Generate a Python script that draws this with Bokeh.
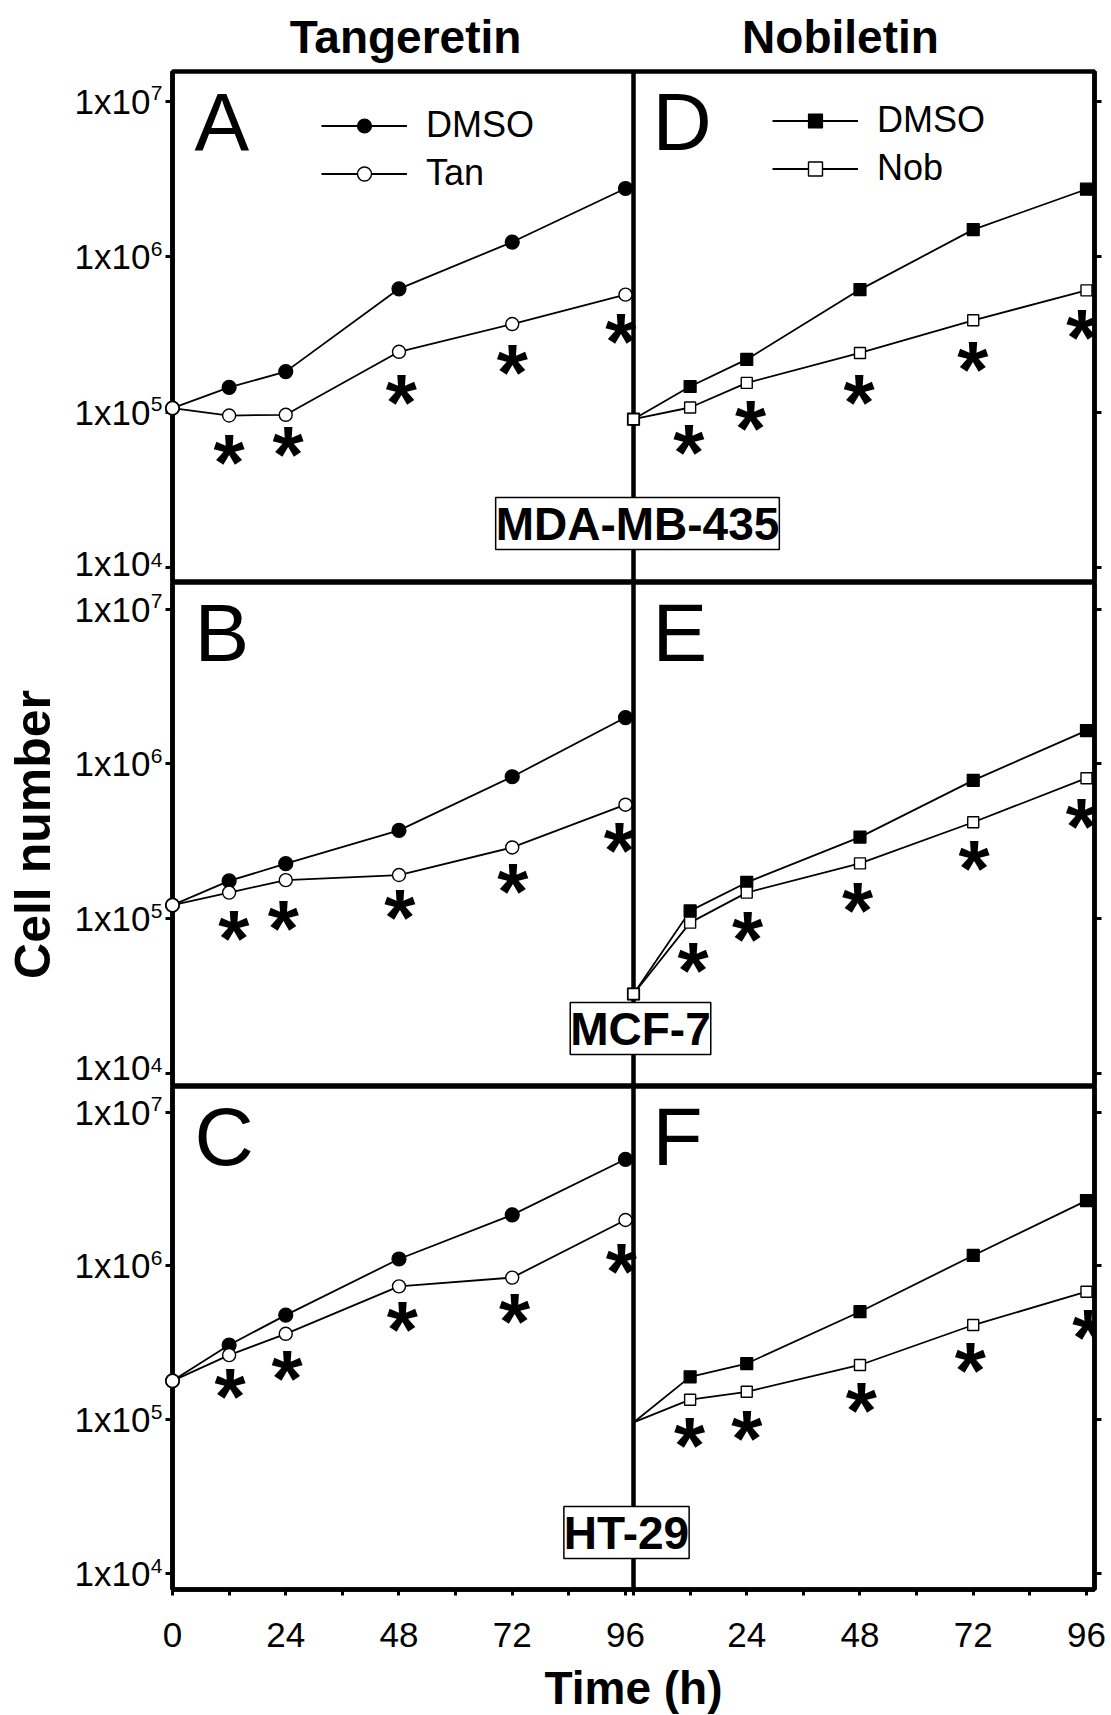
from bokeh.plotting import figure
from bokeh.models import (ColumnDataSource, Range1d, FixedTicker, LogAxis, Span, Label,
                          Legend, LegendItem, CDSView, IndexFilter)
from bokeh.layouts import column
from bokeh.transform import dodge
from bokeh.core.properties import value
from bokeh.embed import file_html
from bokeh.resources import INLINE

# ------------------------------------------------------------------ data
times = [0, 12, 24, 48, 72, 96]

col_titles = ["Tangeretin", "Nobiletin"]
cell_lines = ["MDA-MB-435", "MCF-7", "HT-29"]
panel_letters = [["A", "D"], ["B", "E"], ["C", "F"]]
legend_left = ["DMSO", "Tan"]
legend_right = ["DMSO", "Nob"]

# Tangeretin column (A: MDA-MB-435, B: MCF-7, C: HT-29)
a_dmso = [1.06e5, 1.44e5, 1.82e5, 6.2e5, 1.24e6, 2.74e6]
a_tan = [1.06e5, 9.5e4, 9.6e4, 2.44e5, 3.68e5, 5.69e5]
a_star_t = [12, 24.5, 48.5, 72, 95]
a_star_y = [5.45e4, 6.1e4, 1.31e5, 2.06e5, 3.24e5]

b_dmso = [1.22e5, 1.75e5, 2.26e5, 3.71e5, 8.25e5, 1.99e6]
b_tan = [1.22e5, 1.47e5, 1.77e5, 1.91e5, 2.88e5, 5.44e5]
b_star_t = [13, 23.5, 48.2, 72.1, 94.7]
b_star_y = [8.5e4, 9.9e4, 1.16e5, 1.70e5, 3.15e5]

c_dmso = [1.79e5, 3.06e5, 4.79e5, 1.11e6, 2.15e6, 4.94e6]
c_tan = [1.79e5, 2.63e5, 3.62e5, 7.37e5, 8.4e5, 1.99e6]
c_star_t = [12.2, 24.3, 48.7, 72.5, 95.1]
c_star_y = [1.61e5, 2.13e5, 4.42e5, 5.0e5, 1.06e6]

# Nobiletin column (D: MDA-MB-435, E: MCF-7, F: HT-29)
d_dmso = [9.0e4, 1.46e5, 2.18e5, 6.13e5, 1.49e6, 2.71e6]
d_nob = [9.0e4, 1.07e5, 1.54e5, 2.40e5, 3.89e5, 6.06e5]
d_star_t = [11.7, 24.8, 47.8, 71.9, 95.0]
d_star_y = [6.3e4, 8.9e4, 1.32e5, 2.14e5, 3.47e5]

e_dmso = [3.25e4, 1.12e5, 1.71e5, 3.36e5, 7.82e5, 1.64e6]
e_nob = [3.25e4, 9.4e4, 1.47e5, 2.27e5, 4.19e5, 8.07e5]
e_star_t = [12.6, 24.2, 47.5, 72.2, 94.9]
e_star_y = [5.3e4, 8.4e4, 1.29e5, 2.39e5, 4.53e5]

f_dmso = [9.6e4, 1.90e5, 2.32e5, 5.04e5, 1.17e6, 2.66e6]
f_nob = [9.6e4, 1.35e5, 1.52e5, 2.27e5, 4.13e5, 6.8e5]
f_star_t = [11.9, 24.0, 48.3, 71.4, 96.3]
f_star_y = [7.8e4, 8.6e4, 1.32e5, 2.39e5, 3.94e5]

y_tick_values = [10000, 100000, 1000000, 10000000]
y_tick_base = "1x10"
y_tick_exponents = ["4", "5", "6", "7"]
x_tick_hours = [0, 12, 24, 36, 48, 60, 72, 84, 96]
x_tick_labels_left = ["0", "", "24", "", "48", "", "72", "", "96"]
x_tick_labels_right = ["", "", "24", "", "48", "", "72", "", "96"]

# ------------------------------------------------------------------ layout
X_END = 97.7          # hours spanned by one panel
FRAME_LEFT = 172
FRAME_W = 922
RIGHT_BORDER = 17
BOTTOM_BORDER = 126
FONT = "Liberation Sans"

rows_geom = [
    dict(top=71, h=511, lo=3.904, hi=7.19),
    dict(top=582, h=504, lo=3.914, hi=7.172),
    dict(top=1086, h=503, lo=3.896, hi=7.167),
]

rows_data = [
    [dict(ctrl=a_dmso, trt=a_tan, st=a_star_t, sy=a_star_y, first=True),
     dict(ctrl=d_dmso, trt=d_nob, st=d_star_t, sy=d_star_y, first=True)],
    [dict(ctrl=b_dmso, trt=b_tan, st=b_star_t, sy=b_star_y, first=True),
     dict(ctrl=e_dmso, trt=e_nob, st=e_star_t, sy=e_star_y, first=True)],
    [dict(ctrl=c_dmso, trt=c_tan, st=c_star_t, sy=c_star_y, first=True),
     dict(ctrl=f_dmso, trt=f_nob, st=f_star_t, sy=f_star_y, first=False)],
]


def dx(px):
    return (px - FRAME_LEFT) / FRAME_W * 2 * X_END


def dy(g, py):
    return 10 ** (g["hi"] - (py - g["top"]) / g["h"] * (g["hi"] - g["lo"]))


figs = []
for i, g in enumerate(rows_geom):
    last = i == 2
    p = figure(frame_width=FRAME_W, frame_height=g["h"],
               x_range=Range1d(0, 2 * X_END), y_range=Range1d(10 ** g["lo"], 10 ** g["hi"]),
               y_axis_type="log", x_axis_location="below" if last else None,
               toolbar_location=None, output_backend="svg",
               min_border_left=FRAME_LEFT, min_border_right=RIGHT_BORDER,
               min_border_top=g["top"] if i == 0 else 0,
               min_border_bottom=BOTTOM_BORDER if last else 0)
    p.grid.visible = False
    p.outline_line_color = "black"
    p.outline_line_width = 4.5
    p.background_fill_color = "white"
    p.border_fill_color = "white"

    ya = p.yaxis[0]
    ya.ticker = FixedTicker(ticks=y_tick_values)
    ya.major_label_overrides = {v: y_tick_base for v in y_tick_values}
    ya.major_tick_out = 7
    ya.major_tick_in = 0
    ya.minor_tick_line_color = None
    ya.major_tick_line_width = 3
    ya.axis_line_width = 4.5
    ya.major_label_text_font = FONT
    ya.major_label_text_font_size = "35px"
    ya.major_label_text_color = "black"
    ya.major_label_standoff = 15
    if i == 1:
        ya.axis_label = "Cell number"
        ya.axis_label_text_font = FONT
        ya.axis_label_text_font_size = "50px"
        ya.axis_label_text_font_style = "bold"
        ya.axis_label_text_color = "black"
        ya.axis_label_standoff = 11

    # exponents of the tick labels (superscripts)
    esrc = ColumnDataSource(dict(y=y_tick_values, e=y_tick_exponents))
    p.text(x=0, y="y", source=esrc, text="e", text_font=value(FONT), text_font_size="21px",
           text_align="right", text_baseline="middle", x_offset=-10, y_offset=-8,
           text_color="black", level="overlay")

    ra = LogAxis(ticker=FixedTicker(ticks=y_tick_values),
                 major_label_overrides={v: "" for v in y_tick_values},
                 major_tick_out=7, major_tick_in=0, major_tick_line_width=3,
                 minor_tick_line_color=None, axis_line_width=4.5, major_label_standoff=0)
    p.add_layout(ra, "right")

    if last:
        xa = p.xaxis[0]
        ticks = [float(t) for t in x_tick_hours] + [X_END + t for t in x_tick_hours]
        labels = x_tick_labels_left + x_tick_labels_right
        xa.ticker = FixedTicker(ticks=ticks)
        xa.major_label_overrides = dict(zip(ticks, labels))
        xa.major_tick_out = 6
        xa.major_tick_in = 0
        xa.major_tick_line_width = 3
        xa.minor_tick_line_color = None
        xa.axis_line_width = 4.5
        xa.major_label_text_font = FONT
        xa.major_label_text_font_size = "35px"
        xa.major_label_text_color = "black"
        xa.major_label_standoff = 27
        xa.axis_label = "Time (h)"
        xa.axis_label_text_font = FONT
        xa.axis_label_text_font_size = "46px"
        xa.axis_label_text_font_style = "bold"
        xa.axis_label_text_color = "black"
        xa.axis_label_standoff = 12

    p.add_layout(Span(location=X_END, dimension="height", line_color="black",
                      line_width=4.5, level="underlay"))

    for j, pd_ in enumerate(rows_data[i]):
        off = j * X_END
        src = ColumnDataSource(dict(t=times, ctrl=pd_["ctrl"], trt=pd_["trt"]))
        start = 0 if pd_["first"] else 1
        view = CDSView(filter=IndexFilter(list(range(start, len(times)))))
        mk = "circle" if j == 0 else "square"
        msize = 14 if j == 0 else 12
        l1 = p.line(x=dodge("t", off), y="ctrl", source=src, line_color="black", line_width=1.8)
        m1 = p.scatter(x=dodge("t", off), y="ctrl", source=src, view=view, marker=mk, size=msize,
                       fill_color="black", line_color="black", line_width=1.2, level="overlay")
        l2 = p.line(x=dodge("t", off), y="trt", source=src, line_color="black", line_width=1.8)
        m2 = p.scatter(x=dodge("t", off), y="trt", source=src, view=view, marker=mk, size=msize - 1,
                       fill_color="white", line_color="black", line_width=1.4, level="overlay")

        ssrc = ColumnDataSource(dict(t=pd_["st"], y=pd_["sy"]))
        p.text(x=dodge("t", off), y="y", source=ssrc, text=value("*"),
               text_font=value(FONT), text_font_style="bold", text_font_size="80px",
               text_align="center", text_baseline="middle", y_offset=9, text_color="black")

        # panel letter (kept fully inside its own canvas)
        p.add_layout(Label(x=dx(194 if j == 0 else 652), y=dy(g, g["top"] + 50),
                           text=panel_letters[i][j], text_font=FONT, text_font_size="82px",
                           text_align="left", text_baseline="middle", text_color="black"))

        if i == 0:
            labs = legend_left if j == 0 else legend_right
            gx = 321 if j == 0 else 772
            gy_bottom = 194 if j == 0 else 189
            leg = Legend(items=[LegendItem(label=labs[0], renderers=[l1, m1]),
                                LegendItem(label=labs[1], renderers=[l2, m2])],
                         location=(gx - FRAME_LEFT, g["top"] + g["h"] - gy_bottom),
                         glyph_width=86, glyph_height=35, label_standoff=19, spacing=6,
                         padding=0, margin=0, border_line_color=None, background_fill_alpha=0,
                         label_text_font=FONT, label_text_font_size="36px",
                         label_text_color="black", label_height=35)
            p.add_layout(leg)

            tsrc = ColumnDataSource(dict(x=[dx(405 if j == 0 else 840)], y=[dy(g, 36)],
                                         txt=[col_titles[j]]))
            p.text(x="x", y="y", text="txt", source=tsrc, text_font=value(FONT),
                   text_font_size="46px", text_font_style="bold", text_align="center",
                   text_baseline="middle", text_color="black", level="overlay")

    # cell line label box
    centers = [(637, 523), (640, 1028), (626, 1532)]
    cx, cy = centers[i]
    p.add_layout(Label(x=dx(cx), y=dy(g, cy), text=cell_lines[i], text_font=FONT,
                       text_font_size="46px", text_font_style="bold", text_align="center",
                       text_baseline="middle", text_color="black",
                       background_fill_color="white", border_line_color="black",
                       border_line_width=1.5, padding=0))
    figs.append(p)

layout = column(*figs, spacing=0)
open("out.html", "w").write(file_html(layout, INLINE, title="Cell growth"))
